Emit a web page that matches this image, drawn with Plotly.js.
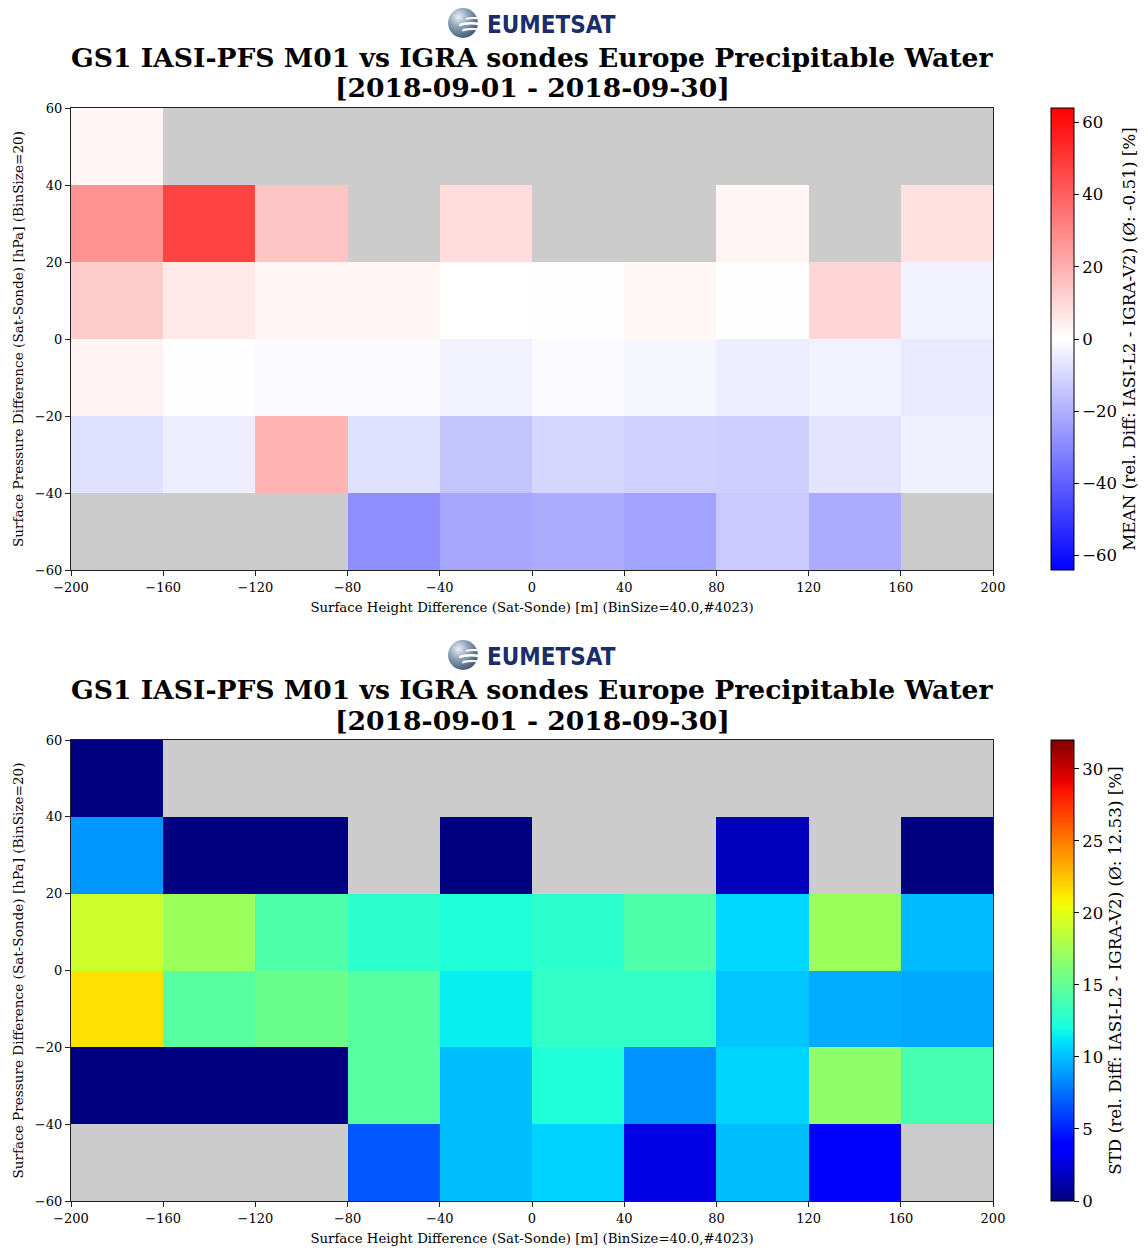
<!DOCTYPE html>
<html>
<head>
<meta charset="utf-8">
<script src="https://cdn.plot.ly/plotly-3.0.1.min.js"></script>
<style>html,body{margin:0;padding:0;background:#fff;}#chart{width:1148px;height:1251px;}</style>
</head>
<body>
<div id="chart"></div>
<script>
// Bin centres
var heightBins = [-180, -140, -100, -60, -20, 20, 60, 100, 140, 180];   // m
var pressureBins = [-50, -30, -10, 10, 30, 50];                         // hPa
var xTicks = [-200, -160, -120, -80, -40, 0, 40, 80, 120, 160, 200];
var yTicks = [-60, -40, -20, 0, 20, 40, 60];

// MEAN relative difference [%], rows from pressure bin -50 up to +50
var meanRowM50 = [null, null, null, -28.0, -22.0, -20.8, -23.3, -13.3, -20.8, null];
var meanRowM30 = [-7.8, -4.5, 18.8, -7.8, -14.3, -10.3, -11.5, -12.0, -6.8, -3.8];
var meanRowM10 = [3.0, -0.3, -1.3, -1.3, -3.3, -1.3, -2.2, -4.5, -3.3, -5.5];
var meanRowP10 = [12.8, 5.8, 2.5, 2.5, 0.0, 0.3, 2.2, 0.3, 10.3, -3.5];
var meanRowP30 = [27.4, 47.4, 14.8, null, 8.5, null, null, 2.5, null, 7.6];
var meanRowP50 = [2.5, null, null, null, null, null, null, null, null, null];

// STD relative difference [%]
var stdRowM50 = [null, null, null, 6.7, 10.0, 10.6, 2.8, 10.0, 3.8, null];
var stdRowM30 = [0.0, 0.0, 0.0, 14.5, 10.0, 12.4, 8.6, 10.7, 16.7, 13.9];
var stdRowM10 = [21.5, 14.5, 15.3, 14.5, 11.5, 13.1, 13.1, 10.2, 9.4, 9.3];
var stdRowP10 = [19.1, 17.2, 14.2, 12.8, 12.4, 12.8, 14.2, 10.8, 17.2, 9.9];
var stdRowP30 = [8.7, 0.0, 0.0, null, 0.0, null, null, 1.7, null, 0.0];
var stdRowP50 = [0.0, null, null, null, null, null, null, null, null, null];

var titleLine1 = "GS1 IASI-PFS M01 vs IGRA sondes Europe Precipitable Water";
var titleLine2 = "[2018-09-01 - 2018-09-30]";
var xTitle = "Surface Height Difference (Sat-Sonde) [m] (BinSize=40.0,#4023)";
var yTitle = "Surface Pressure Difference (Sat-Sonde) [hPa] (BinSize=20)";
var meanCbTitle = "MEAN (rel. Diff: IASI-L2 - IGRA-V2) (Ø: -0.51) [%]";
var stdCbTitle = "STD (rel. Diff: IASI-L2 - IGRA-V2) (Ø: 12.53) [%]";
var meanTicks = [-60, -40, -20, 0, 20, 40, 60];
var stdTicks = [0, 5, 10, 15, 20, 25, 30];

var meanZ = [meanRowM50, meanRowM30, meanRowM10, meanRowP10, meanRowP30, meanRowP50];
var stdZ = [stdRowM50, stdRowM30, stdRowM10, stdRowP10, stdRowP30, stdRowP50];

var W = 1148, H = 1251;
function px(x){return x/W;}
function py(y){return 1 - y/H;}

var bwr = [[0,'rgb(0,0,255)'],[0.5,'rgb(255,255,255)'],[1,'rgb(255,0,0)']];
var jet = [[0,'rgb(0,0,128)'],[0.11,'rgb(0,0,255)'],[0.125,'rgb(0,0,255)'],[0.34,'rgb(0,219,255)'],
           [0.35,'rgb(0,229,247)'],[0.375,'rgb(21,255,226)'],[0.64,'rgb(239,255,8)'],[0.65,'rgb(247,245,0)'],
           [0.66,'rgb(255,236,0)'],[0.89,'rgb(255,19,0)'],[0.91,'rgb(232,0,0)'],[1,'rgb(128,0,0)']];

var serif = "DejaVu Serif, serif";
var plotTop1 = 108, plotBot1 = 570, plotTop2 = 740, plotBot2 = 1201;

function cb(top, bot, ticks, title){
  return {
    x: px(1051), xanchor: 'left', xpad: 0, ypad: 0,
    y: py((top+bot)/2), yanchor: 'middle', len: (bot-top)/H, lenmode: 'fraction',
    thickness: 23, thicknessmode: 'pixels',
    outlinecolor: '#000', outlinewidth: 1,
    tickmode: 'array', tickvals: ticks, ticks: 'outside', ticklen: 5, tickcolor: '#000',
    tickfont: {family: serif, size: 16.5, color: '#000'},
    title: {text: title, side: 'right', font: {family: serif, size: 16.8, color: '#000'}}
  };
}

var traces = [
  {type: 'heatmap', x: heightBins, y: pressureBins, z: meanZ, xaxis: 'x', yaxis: 'y',
   colorscale: bwr, zmin: -64, zmax: 64, colorbar: cb(plotTop1, plotBot1, meanTicks, meanCbTitle), hoverongaps: false},
  {type: 'heatmap', x: heightBins, y: pressureBins, z: stdZ, xaxis: 'x2', yaxis: 'y2',
   colorscale: jet, zmin: 0, zmax: 32, colorbar: cb(plotTop2, plotBot2, stdTicks, stdCbTitle), hoverongaps: false}
];

function xax(anchor){
  return {domain: [px(71), px(993)], anchor: anchor, range: [-200, 200], tickmode: 'array', tickvals: xTicks,
    showline: true, mirror: true, linecolor: '#222', linewidth: 1.2, ticks: 'outside', ticklen: 5, tickcolor: '#222',
    showgrid: false, zeroline: false, tickfont: {family: serif, size: 13, color: '#000'},
    title: {text: xTitle, font: {family: serif, size: 13.3, color: '#000'}, standoff: 8}};
}
function yax(anchor, top, bot){
  return {domain: [py(bot), py(top)], anchor: anchor, range: [-60, 60], tickmode: 'array', tickvals: yTicks,
    showline: true, mirror: true, linecolor: '#222', linewidth: 1.2, ticks: 'outside', ticklen: 5, tickcolor: '#222',
    showgrid: false, zeroline: false, tickfont: {family: serif, size: 13, color: '#000'},
    title: {text: yTitle, font: {family: serif, size: 13.6, color: '#000'}, standoff: 8}};
}

// EUMETSAT globe logo as inline SVG
var globeSvg = '<svg xmlns="http://www.w3.org/2000/svg" width="60" height="60" viewBox="0 0 60 60">' +
  '<defs><radialGradient id="g" cx="0.35" cy="0.3" r="0.75">' +
  '<stop offset="0" stop-color="#e8eef5"/><stop offset="0.45" stop-color="#8ea3b8"/><stop offset="1" stop-color="#3f5670"/></radialGradient></defs>' +
  '<circle cx="30" cy="30" r="28" fill="url(#g)"/>' +
  '<path d="M24 31 Q40 27 60 29 L60 34 Q40 31 22 36 Z" fill="#fff"/>' +
  '<path d="M30 41 Q44 38 60 40 L60 44 Q44 42 28 46 Z" fill="#fff"/>' +
  '<path d="M36 20 Q46 18 60 19 L60 23 Q46 22 35 24 Z" fill="#fff"/>' +
  '</svg>';
var globeSrc = 'data:image/svg+xml;base64,' + btoa(globeSvg);

function titleAnns(offset){
  return [
    {xref: 'paper', yref: 'paper', x: px(532), y: py(57+offset), xanchor: 'center', yanchor: 'middle', showarrow: false,
     text: '<b>' + titleLine1 + '</b>', font: {family: serif, size: 26.6, color: '#000'}},
    {xref: 'paper', yref: 'paper', x: px(532), y: py(88+offset), xanchor: 'center', yanchor: 'middle', showarrow: false,
     text: '<b>' + titleLine2 + '</b>', font: {family: serif, size: 26.6, color: '#000'}},
    {xref: 'paper', yref: 'paper', x: px(485), y: py(25+offset), xanchor: 'left', yanchor: 'middle', showarrow: false,
     text: '<b>EUMETSAT</b>', font: {family: 'Liberation Sans Narrow, DejaVu Sans Condensed, Arial Narrow, sans-serif', size: 24, color: '#1b2d6b'}}
  ];
}
function logoImg(offset){
  return {source: globeSrc, xref: 'paper', yref: 'paper', x: px(447), y: py(7+offset), sizex: px(32) , sizey: 32/H,
          xanchor: 'left', yanchor: 'top', sizing: 'stretch', layer: 'above'};
}

var layout = {
  width: W, height: H, margin: {l: 0, r: 0, t: 0, b: 0, autoexpand: false},
  paper_bgcolor: '#fff', plot_bgcolor: '#cccccc', showlegend: false,
  xaxis: xax('y'), yaxis: yax('x', plotTop1, plotBot1),
  xaxis2: xax('y2'), yaxis2: yax('x2', plotTop2, plotBot2),
  annotations: titleAnns(0).concat(titleAnns(632)),
  images: [logoImg(0), logoImg(632)]
};

Plotly.newPlot('chart', traces, layout, {displayModeBar: false, staticPlot: true});
</script>
</body>
</html>
